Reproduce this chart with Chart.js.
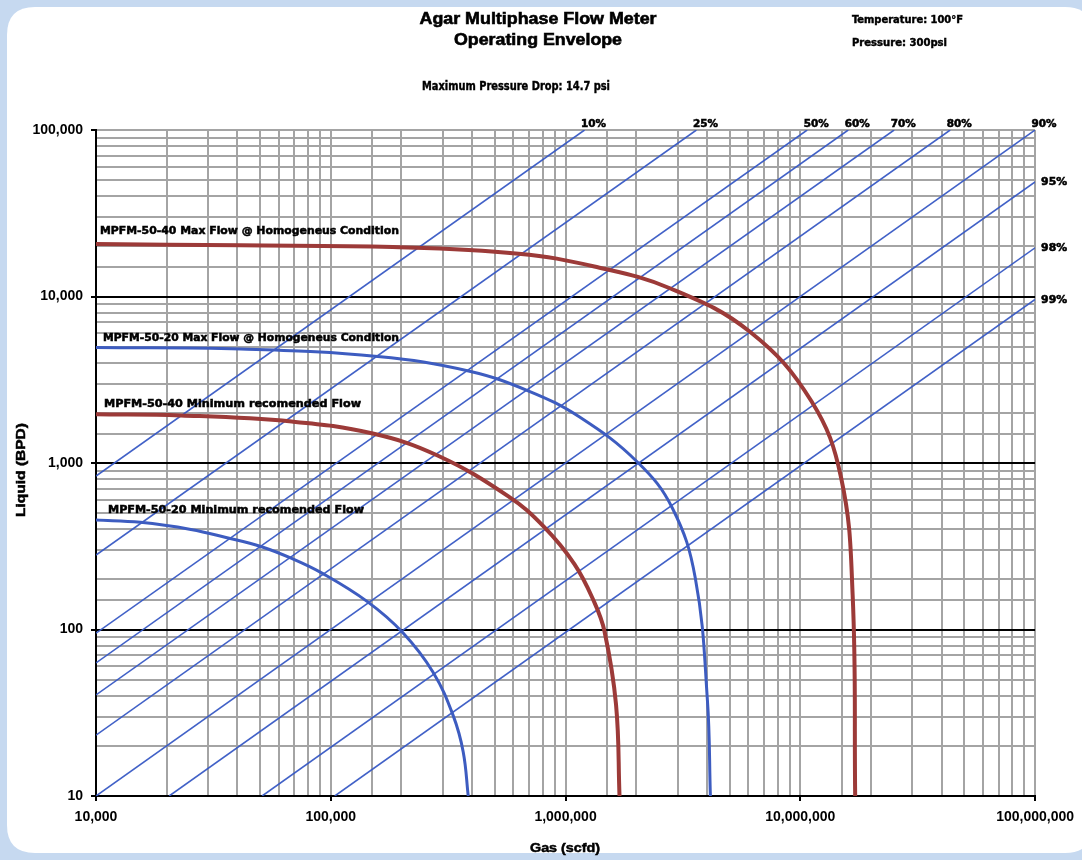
<!DOCTYPE html>
<html><head><meta charset="utf-8">
<script src="https://cdn.jsdelivr.net/npm/chart.js@4.4.1/dist/chart.umd.min.js"></script>
<style>html,body{margin:0;padding:0;background:#c6d9f0;overflow:hidden}canvas{display:block}</style>
</head><body><canvas id="c" width="1082" height="860" style="width:1082px;height:860px"></canvas>
<script>
// ---------- data ----------
const gvfLabels   = ['10%','25%','50%','60%','70%','80%','90%','95%','98%','99%'];
const gvfGasStart = [1e4, 1e4, 1e4, 1e4, 1e4, 1e4, 1e4, 20500, 51000, 104000];
const gvfLiqStart = [835, 280, 95, 63, 40.5, 23.2, 10, 10, 10, 10];
const gvfGasEnd   = [1.205e6, 3.61e6, 1.07e7, 1.6e7, 2.51e7, 4.35e7, 1e8, 1e8, 1e8, 1e8];
const gvfLiqEnd   = [1e5, 1e5, 1e5, 1e5, 1e5, 1e5, 1e5, 48800, 19600, 9600];

const curveLabels = [
  'MPFM-50-40 Max Flow @ Homogeneus Condition',
  'MPFM-50-20 Max Flow @ Homogeneus Condition',
  'MPFM-50-40 Minimum recomended Flow',
  'MPFM-50-20 Minimum recomended Flow'
];
const max5040Gas = [1e4, 41400, 183600, 631000, 1.327e6, 2.80e6, 6.12e6, 1.114e7, 1.493e7, 1.671e7, 1.713e7];
const max5040Liq = [20650, 20280, 19820, 18070, 15140, 11170, 6120, 2355, 813, 161, 10];
const max5020Gas = [1e4, 41400, 158500, 386000, 697000, 1.148e6, 2.023e6, 2.85e6, 3.57e6, 4.02e6, 4.14e6];
const max5020Liq = [4940, 4840, 4365, 3573, 2705, 1888, 1014, 537, 204, 37.8, 10];
const min5040Gas = [1e4, 23000, 68200, 151000, 285000, 571000, 806000, 1.091e6, 1.327e6, 1.466e6, 1.641e6, 1.698e6];
const min5040Liq = [1961, 1931, 1774, 1503, 1109, 630, 416, 247, 145.5, 97.3, 35.4, 10];
const min5020Gas = [1e4, 15460, 25350, 35800, 50700, 68200, 91750, 143200, 202400, 272300, 332000, 366600, 385000];
const min5020Liq = [454, 440, 399, 357, 314, 267, 218, 147, 95.9, 55.6, 30.5, 18.4, 10];

const xRange = [1e4, 1e8];
const yRange = [10, 1e5];

const titleLines = ['Agar Multiphase Flow Meter', 'Operating Envelope'];
const subTitle = 'Maximum Pressure Drop: 14.7 psi';
const conditions = ['Temperature: 100°F', 'Pressure: 300psi'];
const xTitle = 'Gas (scfd)';
const yTitle = 'Liquid (BPD)';

// ---------- styling ----------
const RED = '#9c3a38', BLUE = '#3d5cc0', LINEBLUE = 'rgba(55,88,196,0.95)';
const GRAY = '#a4a4a4';
const FONT = '"Liberation Sans", Arial, sans-serif';
const NARROW = '"Liberation Sans Narrow", "DejaVu Sans Condensed", "Liberation Sans", sans-serif';

function pts(xs, ys) { return xs.map((x, i) => ({ x: x, y: ys[i] })); }
function isDecade(v) { const l = Math.log10(v); return Math.abs(l - Math.round(l)) < 1e-9; }

const curveSets = [
  { data: pts(max5040Gas, max5040Liq), color: RED, width: 4 },
  { data: pts(max5020Gas, max5020Liq), color: BLUE, width: 3 },
  { data: pts(min5040Gas, min5040Liq), color: RED, width: 4 },
  { data: pts(min5020Gas, min5020Liq), color: BLUE, width: 3 }
];

const datasets = [];
curveSets.forEach((c, i) => datasets.push({
  label: curveLabels[i], data: c.data, borderColor: c.color, borderWidth: c.width,
  pointRadius: 0, fill: false, tension: 0.4, borderCapStyle: 'butt', borderJoinStyle: 'round'
}));
gvfLabels.forEach((l, i) => datasets.push({
  label: l, data: [{ x: gvfGasStart[i], y: gvfLiqStart[i] }, { x: gvfGasEnd[i], y: gvfLiqEnd[i] }],
  borderColor: LINEBLUE, borderWidth: 1.6, pointRadius: 0, fill: false, tension: 0
}));

function fitText(ctx, text, x, y, w, font, align, heavy) {
  ctx.save();
  ctx.font = font; ctx.textBaseline = 'middle'; ctx.textAlign = 'left';
  const m = ctx.measureText(text).width;
  const s = w / m;
  const left = align === 'center' ? x - w / 2 : x;
  ctx.translate(left, y); ctx.scale(s, 1);
  ctx.fillText(text, 0, 0);
  if (heavy) { ctx.lineWidth = heavy; ctx.strokeStyle = ctx.fillStyle; ctx.strokeText(text, 0, 0); }
  ctx.restore();
}
function roundRect(ctx, x, y, w, h, r) {
  ctx.beginPath();
  ctx.moveTo(x + r, y); ctx.lineTo(x + w - r, y); ctx.quadraticCurveTo(x + w, y, x + w, y + r);
  ctx.lineTo(x + w, y + h - r); ctx.quadraticCurveTo(x + w, y + h, x + w - r, y + h);
  ctx.lineTo(x + r, y + h); ctx.quadraticCurveTo(x, y + h, x, y + h - r);
  ctx.lineTo(x, y + r); ctx.quadraticCurveTo(x, y, x + r, y);
  ctx.closePath();
}

const decor = {
  id: 'decor',
  beforeDraw(chart) {
    const c = chart.ctx;
    c.save();
    c.fillStyle = '#c6d9f0'; c.fillRect(0, 0, chart.width, chart.height);
    c.fillStyle = '#ffffff'; roundRect(c, 7, 7, 1086, 846, 28); c.fill();
    c.restore();
  },
  afterDraw(chart) {
    const c = chart.ctx, xs = chart.scales.x, ys = chart.scales.y, a = chart.chartArea;
    c.save();
    c.fillStyle = '#000';
    // titles
    fitText(c, titleLines[0], 538, 20, 237, 'bold 16px ' + FONT, 'center', 0.6);
    fitText(c, titleLines[1], 538, 41, 168, 'bold 16px ' + FONT, 'center', 0.6);
    fitText(c, subTitle, 516, 87, 188, 'bold 12px ' + NARROW, 'center', 0.4);
    fitText(c, conditions[0], 852, 20, 111, 'bold 10px ' + NARROW, 'left', 0.4);
    fitText(c, conditions[1], 852, 43, 95, 'bold 10px ' + NARROW, 'left', 0.4);
    // axis titles
    fitText(c, xTitle, 565, 848, 70, 'bold 13px ' + FONT, 'center', 0.5);
    c.save(); c.translate(21, 470); c.rotate(-Math.PI / 2);
    fitText(c, yTitle, 0, 0, 94, 'bold 13px ' + FONT, 'center', 0.5);
    c.restore();
    // GVF labels
    gvfLabels.forEach((l, i) => {
      if (gvfLiqEnd[i] >= yRange[1]) {
        const px = xs.getPixelForValue(gvfGasEnd[i]);
        fitText(c, l, px + 9, a.top - 6, 25, 'bold 10px ' + NARROW, 'center', 0.5);
      } else {
        const py = ys.getPixelForValue(gvfLiqEnd[i]);
        fitText(c, l, a.right + 6, py + 1, 26, 'bold 10px ' + NARROW, 'left', 0.5);
      }
    });
    // curve labels
    const offs = [[4, 13, 299], [7, 9, 296], [8, 10, 257], [12, 10, 256]];
    curveSets.forEach((cs, i) => {
      const py = ys.getPixelForValue(cs.data[0].y);
      fitText(c, curveLabels[i], a.left + offs[i][0], py - offs[i][1], offs[i][2], 'bold 11px ' + NARROW, 'left', 0.5);
    });
    c.restore();
  }
};

function tickLabel(v) { return isDecade(v) ? Number(v).toLocaleString('en-US') : ''; }

new Chart(document.getElementById('c'), {
  type: 'line',
  data: { datasets: datasets },
  plugins: [decor],
  options: {
    responsive: false, animation: false, devicePixelRatio: 1,
    layout: { padding: { left: 0, right: 46, top: 130, bottom: 0 } },
    plugins: { legend: { display: false }, title: { display: false }, tooltip: { enabled: false } },
    scales: {
      x: {
        type: 'logarithmic', min: xRange[0], max: xRange[1], position: 'bottom',
        afterFit(s) { s.height = 64; },
        grid: {
          color: (ctx) => (ctx.tick && ctx.tick.value === xRange[0]) ? '#000' : GRAY,
          lineWidth: 2, tickLength: 5, tickWidth: 2,
          tickColor: (ctx) => (ctx.tick && isDecade(ctx.tick.value)) ? '#000' : 'rgba(0,0,0,0)'
        },
        border: { display: true, color: '#000', width: 2 },
        ticks: { callback: tickLabel, autoSkip: false, maxRotation: 0, minRotation: 0, padding: 8,
                 color: '#000', font: { family: FONT, size: 14, weight: 'bold' } }
      },
      y: {
        type: 'logarithmic', min: yRange[0], max: yRange[1],
        afterFit(s) { s.width = 96; },
        grid: {
          color: (ctx) => {
            const v = ctx.tick && ctx.tick.value;
            return (v && isDecade(v) && v < yRange[1]) ? '#000' : GRAY;
          },
          lineWidth: 2, tickLength: 5, tickWidth: 2,
          tickColor: (ctx) => (ctx.tick && isDecade(ctx.tick.value)) ? '#000' : 'rgba(0,0,0,0)'
        },
        border: { display: true, color: '#000', width: 2 },
        ticks: { callback: tickLabel, autoSkip: false, padding: 8,
                 color: '#000', font: { family: FONT, size: 14, weight: 'bold' } }
      }
    }
  }
});
</script></body></html>
